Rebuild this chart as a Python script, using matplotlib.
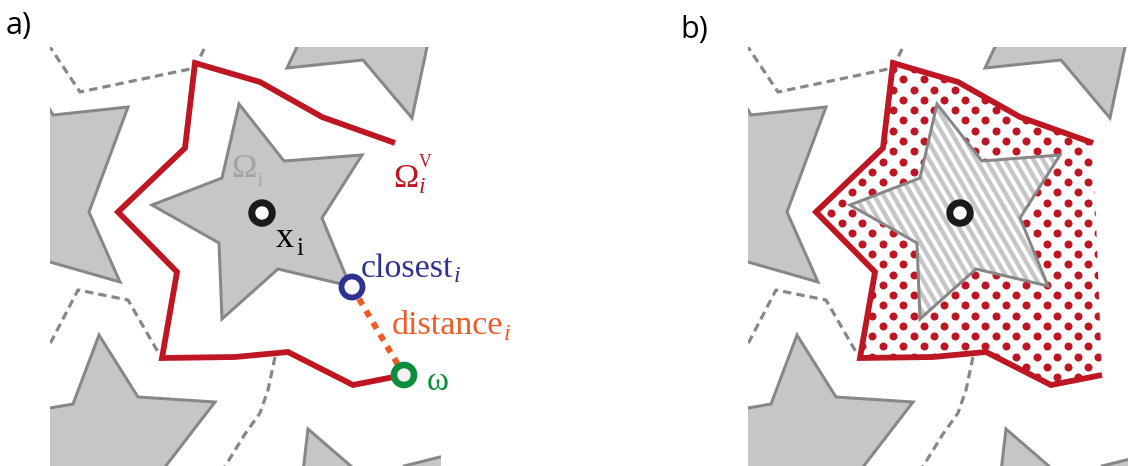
import numpy as np
import matplotlib
matplotlib.use("Agg")
import matplotlib.pyplot as plt
from matplotlib.patches import Polygon, Circle, Rectangle
from matplotlib.collections import LineCollection

# ---------------------------------------------------------------------------
# Scene geometry, in pixel coordinates of panel a (y grows downwards).
# Panel b repeats the same scene shifted to the right.
# ---------------------------------------------------------------------------
PANEL_SHIFT = 698
PANEL_BOX = (50, 47, 441, 466)          # x0, y0, x1, y1 of the visible window

cell_star = [(239, 104), (284, 161), (362, 155), (322, 218), (350, 286),
             (278, 269), (222, 319), (219, 243), (152, 205), (222, 178)]

neighbour_stars = [
    [(287, 68), (363, 60), (412, 118), (431, 28), (306, 28)],
    [(20, 60), (53, 115), (128, 107), (89, 212), (120, 282), (50, 262), (10, 251)],
    [(10, 415), (73, 404), (99, 335), (138, 397), (215, 402), (155, 480), (10, 480)],
    [(308, 429), (367, 480), (302, 480)],
    [(404, 466), (440, 457), (470, 450), (470, 480), (395, 480)],
]

neighbour_borders = [
    [(40, 33), (52, 50), (80, 92), (195, 68), (204, 49)],
    [(44, 355), (52, 340), (78, 290), (128, 300), (158, 352)],
    [(275, 357), (268, 390), (260, 413), (245, 434), (224, 468)],
]

voronoi_path = [(395, 143), (322, 117), (260, 82), (195, 63), (185, 148),
                (118, 212), (177, 272), (162, 358), (235, 357), (288, 352),
                (353, 385), (404, 375)]

site_x = (262, 213)
closest_pt = (352, 287)
omega_pt = (404, 375)

# colours
RED = "#be1622"
NAVY = "#2e3192"
GREEN = "#0b8f3d"
ORANGE = "#f15a24"
STAR_FILL = "#c6c6c6"
STAR_EDGE = "#878787"
LABEL_GREY = "#a3a3a3"
SERIF = "Liberation Serif"

fig = plt.figure(figsize=(11.28, 4.66), dpi=100)
ax = fig.add_axes([0, 0, 1, 1])
ax.set_xlim(0, 1128)
ax.set_ylim(466, 0)
ax.axis("off")

PX = 72 / 100  # points per pixel


def shifted(pts, dx):
    return [(x + dx, y) for x, y in pts]


def ring(center, radius, width, edge, face, dx=0):
    c = Circle((center[0] + dx, center[1]), radius, facecolor=face,
               edgecolor=edge, linewidth=width * PX, zorder=8)
    ax.add_patch(c)


def draw_scene(dx, filled):
    x0, y0, x1, y1 = PANEL_BOX
    clip = Rectangle((x0 + dx, y0), x1 - x0, y1 - y0, transform=ax.transData)

    for line in neighbour_borders:
        p = np.array(shifted(line, dx))
        l, = ax.plot(p[:, 0], p[:, 1], color=STAR_EDGE, lw=3.2 * PX,
                     dashes=(2.6, 1.6), zorder=1)
        l.set_clip_path(clip)

    for star in neighbour_stars:
        poly = Polygon(shifted(star, dx), closed=True, facecolor=STAR_FILL,
                       edgecolor=STAR_EDGE, linewidth=3.0 * PX, zorder=2,
                       joinstyle="miter")
        ax.add_patch(poly)
        poly.set_clip_path(clip)

    if filled:
        # dotted Voronoi cell
        region = Polygon(shifted(voronoi_path, dx), closed=True,
                         facecolor="white", edgecolor="none", zorder=3)
        ax.add_patch(region)
        xs = np.array([p[0] for p in voronoi_path]) + dx
        ys = np.array([p[1] for p in voronoi_path])
        step = 10.27
        ref_x, ref_y = 1057.3, 254.0
        gx, gy = [], []
        for i in range(int((xs.min() - ref_x) / step) - 2, int((xs.max() - ref_x) / step) + 3):
            for j in range(int((ys.min() - ref_y) / step) - 2, int((ys.max() - ref_y) / step) + 3):
                if (i + j) % 2 == 0:
                    gx.append(ref_x + i * step)
                    gy.append(ref_y + j * step)
        dots = ax.scatter(gx, gy, s=(8.0 * PX) ** 2, color=RED, linewidths=0, zorder=4)
        dots.set_clip_path(region)

        # striped star
        star = Polygon(shifted(cell_star, dx), closed=True, facecolor="white",
                       edgecolor="none", zorder=5)
        ax.add_patch(star)
        ang = np.deg2rad(60)
        d = np.array([np.cos(ang), np.sin(ang)])
        nrm = np.array([-d[1], d[0]])
        c = np.array(site_x, float) + np.array([dx, 0])
        segs = []
        for k in np.arange(-20, 21):
            o = c + nrm * k * 8.2
            segs.append([o - d * 200, o + d * 200])
        lc = LineCollection(segs, colors=STAR_FILL, linewidths=4.4 * PX, zorder=6)
        ax.add_collection(lc)
        lc.set_clip_path(star)
        outline = Polygon(shifted(cell_star, dx), closed=True, facecolor="none",
                          edgecolor=STAR_EDGE, linewidth=3.0 * PX, zorder=7,
                          joinstyle="miter")
        ax.add_patch(outline)
    else:
        star = Polygon(shifted(cell_star, dx), closed=True, facecolor=STAR_FILL,
                       edgecolor=STAR_EDGE, linewidth=3.0 * PX, zorder=2,
                       joinstyle="miter")
        ax.add_patch(star)

    p = np.array(shifted(voronoi_path, dx))
    ax.plot(p[:, 0], p[:, 1], color=RED, lw=5.8 * PX, zorder=7,
            solid_joinstyle="miter", solid_capstyle="butt")

    ring(site_x, 10.2, 7.0, "#1a1a1a", "white", dx)


# panel a
draw_scene(0, filled=False)
ax.plot([closest_pt[0], omega_pt[0]], [closest_pt[1], omega_pt[1]], color=ORANGE,
        lw=6 * PX, dashes=(1.15, 1.15), dash_capstyle="butt", zorder=7)
ring(closest_pt, 10.5, 5.8, NAVY, "white")
ring(omega_pt, 10.0, 6.6, GREEN, "#f2f2f2")

# panel b
draw_scene(PANEL_SHIFT, filled=True)


def txt(x, y, s, size, color, style="normal", family=SERIF):
    ax.text(x, y, s, fontsize=size, color=color, family=family, style=style,
            ha="left", va="baseline", zorder=10)


txt(231, 177, "Ω", 24.5, LABEL_GREY)
txt(258, 186, "i", 13, LABEL_GREY)
txt(276, 247, "x", 26, "black")
txt(296, 255, "i", 18, "black")
txt(393, 187, "Ω", 24.5, RED)
txt(419, 167, "V", 12.7, RED)
txt(419, 193, "i", 17, RED, style="italic")
txt(361, 277, "closest", 24.5, NAVY)
txt(454, 282, "i", 17, NAVY, style="italic")
txt(392, 334, "distance", 24.5, ORANGE)
txt(504, 340, "i", 17, ORANGE, style="italic")
txt(427, 390, "ω", 24, GREEN)

txt(6, 34, "a)", 22, "black", family="Open Sans")
txt(680, 38, "b)", 22, "black", family="Open Sans")

fig.savefig("out.png", dpi=100, facecolor="white")
